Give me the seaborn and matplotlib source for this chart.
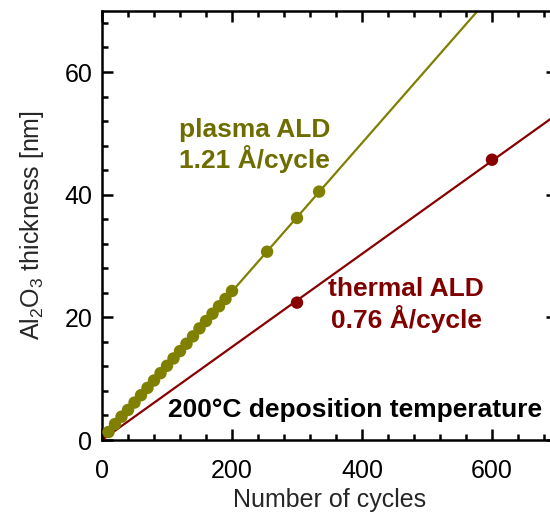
import matplotlib
matplotlib.use("Agg")
import matplotlib.pyplot as plt
import seaborn as sns
import numpy as np
import pandas as pd
from matplotlib.ticker import MultipleLocator

# Data
plasma_cycles = [10, 20, 30, 40, 50, 60, 70, 80, 90, 100, 110, 120, 130, 140, 150,
                 160, 170, 180, 190, 200, 254, 300, 334]
plasma_thickness = [1.3, 2.6, 3.8, 4.9, 6.1, 7.3, 8.5, 9.7, 10.9, 12.1, 13.3, 14.5,
                    15.7, 16.9, 18.2, 19.4, 20.6, 21.8, 23.0, 24.3, 30.7, 36.2, 40.5]
thermal_cycles = [300, 600]
thermal_thickness = [22.4, 45.7]
x_ticks = [0, 200, 400, 600]
y_ticks = [0, 20, 40, 60]

PLASMA = "#808000"
PLASMA_TXT = "#6e6e00"
THERMAL = "#880000"
THERMAL_TXT = "#800000"

sns.set_style("white")
plt.rcParams["font.family"] = ["Liberation Sans", "DejaVu Sans"]
plt.rcParams["mathtext.default"] = "regular"

fig = plt.figure(figsize=(5.5, 5.12), dpi=100)
ax = fig.add_axes([102/550, 1-440/512, 455/550, 429.3/512])

def origin_fit(x, y):
    x = np.asarray(x, float); y = np.asarray(y, float)
    return (x * y).sum() / (x * x).sum()

xl = np.array([0, 700])
for cx, cy, col in [(plasma_cycles, plasma_thickness, PLASMA),
                    (thermal_cycles, thermal_thickness, THERMAL)]:
    k = origin_fit(cx, cy)
    sns.lineplot(x=xl, y=k * xl, ax=ax, color=col, lw=1.6, zorder=2)
    sns.scatterplot(x=cx, y=cy, ax=ax, color=col, s=80, edgecolor="none", zorder=3)

ax.set_xlim(0, 700)
ax.set_ylim(0, 70)
ax.set_xticks(x_ticks)
ax.set_yticks(y_ticks)
ax.xaxis.set_minor_locator(MultipleLocator(40))
ax.yaxis.set_minor_locator(MultipleLocator(4))
ax.tick_params(which="both", direction="in", top=True, right=True, bottom=True,
               left=True, width=1.8, labelsize=18, colors="black")
ax.tick_params(which="major", length=8)
ax.tick_params(which="minor", length=4)
ax.tick_params(axis="x", which="major", pad=14)
ax.tick_params(axis="y", which="major", pad=7)
for s in ax.spines.values():
    s.set_linewidth(1.8)
    s.set_color("black")
ax.set_xlabel("Number of cycles", fontsize=18, labelpad=3)
ax.set_ylabel("Al$_2$O$_3$ thickness [nm]", fontsize=18, labelpad=13)

ax.text(235, 48, "plasma ALD\n1.21 Å/cycle", color=PLASMA_TXT, fontsize=19,
        fontweight="bold", ha="center", va="center", linespacing=1.15)
ax.text(468, 22, "thermal ALD\n0.76 Å/cycle", color=THERMAL_TXT, fontsize=19,
        fontweight="bold", ha="center", va="center", linespacing=1.15)
ax.text(389, 4.9, "200°C deposition temperature", color="black", fontsize=19,
        fontweight="bold", ha="center", va="center")

fig.savefig("out.png", dpi=100)
